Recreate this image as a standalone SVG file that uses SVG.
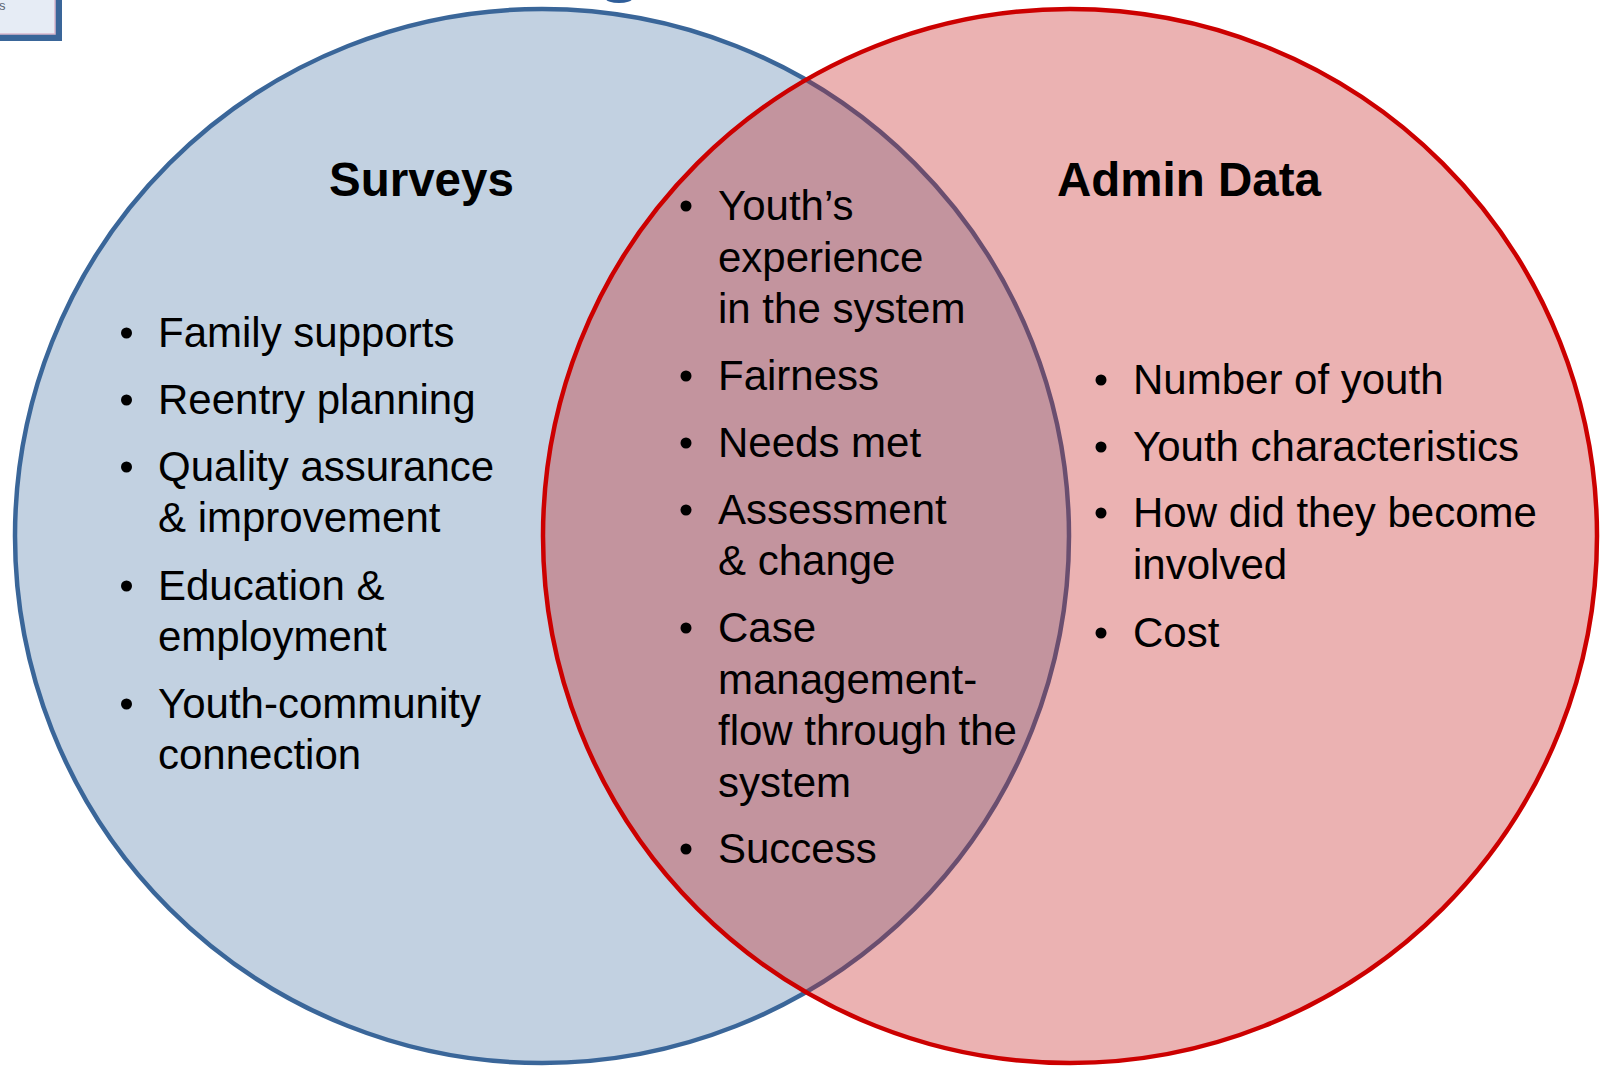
<svg xmlns="http://www.w3.org/2000/svg" width="1600" height="1066" viewBox="0 0 1600 1066">
<style>
.t{font-family:"Liberation Sans",Arial,sans-serif;font-size:42px;fill:#000}
.h{font-family:"Liberation Sans",Arial,sans-serif;font-size:47.5px;font-weight:bold;fill:#000}
.b{fill:#000}
</style>
<rect width="1600" height="1066" fill="#ffffff"/>
<g id="corner-box">
<rect x="-10" y="-10" width="72" height="51" fill="#3A6699"/>
<rect x="-10" y="-10" width="65" height="44" fill="#E6ECF5" stroke="#D9B8CC" stroke-width="1.5"/>
<text x="-1" y="10" font-family="Liberation Sans, Arial, sans-serif" font-size="13" fill="#5A6472">s</text>
</g>
<g id="title-fragment">
<ellipse cx="619" cy="-1" rx="13" ry="4" fill="#2F5E9A"/>
</g>
<g id="surveys">
<circle cx="542" cy="536" r="527" fill="#C2D1E1" stroke="#3A6699" stroke-width="4.5"/>
</g>
<g id="admin-data">
<circle cx="1070" cy="536" r="527" fill="rgb(198,35,35)" fill-opacity="0.35" stroke="#CC0000" stroke-width="4.5"/>
</g>
<g id="connectors"></g>
<g id="surveys-text">
<text class="h" x="329" y="196">Surveys</text>
<circle class="b" cx="126.5" cy="333" r="5.5"/>
<text class="t" x="158" y="347">Family supports</text>
<circle class="b" cx="126.5" cy="400" r="5.5"/>
<text class="t" x="158" y="414">Reentry planning</text>
<circle class="b" cx="126.5" cy="467" r="5.5"/>
<text class="t" x="158" y="481">Quality assurance</text>
<text class="t" x="158" y="532">&amp; improvement</text>
<circle class="b" cx="126.5" cy="586" r="5.5"/>
<text class="t" x="158" y="600">Education &amp;</text>
<text class="t" x="158" y="651">employment</text>
<circle class="b" cx="126.5" cy="704" r="5.5"/>
<text class="t" x="158" y="718">Youth-community</text>
<text class="t" x="158" y="769">connection</text>
</g>
<g id="overlap-text">
<circle class="b" cx="686" cy="206" r="5.5"/>
<text class="t" x="718" y="220">Youth’s</text>
<text class="t" x="718" y="272">experience</text>
<text class="t" x="718" y="323">in the system</text>
<circle class="b" cx="686" cy="376" r="5.5"/>
<text class="t" x="718" y="390">Fairness</text>
<circle class="b" cx="686" cy="443" r="5.5"/>
<text class="t" x="718" y="457">Needs met</text>
<circle class="b" cx="686" cy="510" r="5.5"/>
<text class="t" x="718" y="524">Assessment</text>
<text class="t" x="718" y="575">&amp; change</text>
<circle class="b" cx="686" cy="628" r="5.5"/>
<text class="t" x="718" y="642">Case</text>
<text class="t" x="718" y="694">management-</text>
<text class="t" x="718" y="745">flow through the</text>
<text class="t" x="718" y="797">system</text>
<circle class="b" cx="686" cy="849" r="5.5"/>
<text class="t" x="718" y="863">Success</text>
</g>
<g id="admin-text">
<text class="h" x="1057" y="196">Admin Data</text>
<circle class="b" cx="1101" cy="380" r="5.5"/>
<text class="t" x="1133" y="394">Number of youth</text>
<circle class="b" cx="1101" cy="447" r="5.5"/>
<text class="t" x="1133" y="461">Youth characteristics</text>
<circle class="b" cx="1101" cy="513" r="5.5"/>
<text class="t" x="1133" y="527">How did they become</text>
<text class="t" x="1133" y="579">involved</text>
<circle class="b" cx="1101" cy="633" r="5.5"/>
<text class="t" x="1133" y="647">Cost</text>
</g>
</svg>
